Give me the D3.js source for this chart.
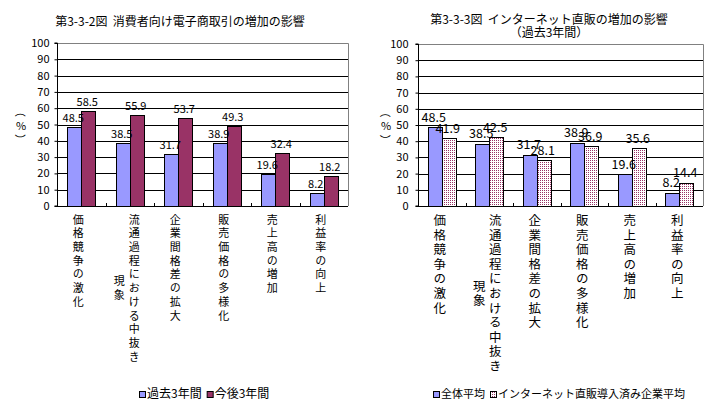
<!DOCTYPE html>
<html><head><meta charset="utf-8">
<script src="https://cdn.jsdelivr.net/npm/d3@7"></script>
<style>
html,body{margin:0;padding:0;background:#fff;}
svg{display:block;}
text{font-family:"Noto Sans CJK JP","Noto Sans",sans-serif;fill:#000;}
</style></head>
<body>
<svg id="c" width="717" height="407"></svg>
<script>
const categories = ["価格競争の激化","流通過程における中抜き現象","企業間格差の拡大","販売価格の多様化","売上高の増加","利益率の向上"];
const leftSeriesNames = ["過去3年間","今後3年間"];
const leftPast = [48.5,38.5,31.7,38.9,19.6,8.2];
const leftFuture = [58.5,55.9,53.7,49.3,32.4,18.2];
const rightSeriesNames = ["全体平均","インターネット直販導入済み企業平均"];
const rightAll = [48.5,38.5,31.7,38.9,19.6,8.2];
const rightAdopted = [41.9,42.5,28.1,36.9,35.6,14.4];
const yTicks = [0,10,20,30,40,50,60,70,80,90,100];
const leftTitle = ["第3-3-2図  消費者向け電子商取引の増加の影響"];
const rightTitle = ["第3-3-3図  インターネット直販の増加の影響","（過去3年間）"];

const svg = d3.select("#c");
const defs = svg.append("defs");
const pat = defs.append("pattern").attr("id","dots").attr("patternUnits","userSpaceOnUse")
  .attr("width",2).attr("height",2);
pat.append("rect").attr("width",2).attr("height",2).attr("fill","#fff");
pat.append("rect").attr("width",1).attr("height",1).attr("fill","#993366");

function chart(cfg){
  const g = svg.append("g");
  const y = d3.scaleLinear().domain([0,100]).range([cfg.y1, cfg.y0]);
  const x = d3.scaleBand().domain(categories).range([cfg.x0, cfg.x1]).padding(0);
  const xs = d3.scaleBand().domain([0,1]).range([0,28]);
  const bw = xs.bandwidth();
  // titles
  cfg.title.forEach((t,i)=>{
    g.append("text").attr("x",cfg.titleX).attr("y",cfg.titleY + i*13)
      .attr("text-anchor","middle").attr("font-size",12).style("white-space","pre").text(t);
  });
  // gridlines
  g.selectAll("line.grid").data(yTicks.filter(v=>v>0 && v<100)).join("line")
    .attr("x1",cfg.x0).attr("x2",cfg.x1).attr("y1",d=>Math.round(y(d))+0.5).attr("y2",d=>Math.round(y(d))+0.5)
    .attr("stroke","#000").attr("stroke-width",1);
  // border top/right gray
  g.append("path").attr("d",`M${cfg.x0},${Math.round(y(100))+0.5}H${cfg.x1+0.5}V${Math.round(y(0))}`)
    .attr("fill","none").attr("stroke","#808080");
  // bars
  const series = [cfg.s0, cfg.s1];
  series.forEach((vals,si)=>{
    g.selectAll("rect.s"+si).data(vals).join("rect")
      .attr("x",(d,i)=>Math.round(x(categories[i]) + x.bandwidth()/2 - 14 + xs(si))+0.5)
      .attr("y",d=>Math.round(y(d))+0.5)
      .attr("width",bw)
      .attr("height",d=>Math.round(y(0))-Math.round(y(d)))
      .attr("fill",cfg.fills[si]).attr("stroke","#000").attr("stroke-width",1);
  });
  // value labels
  series.forEach((vals,si)=>{
    g.selectAll("text.v"+si).data(vals).join("text")
      .attr("x",(d,i)=>x(categories[i]) + x.bandwidth()/2 - 14 + xs(si) + bw/2 - 1)
      .attr("y",d=>y(d)-cfg.labelGap)
      .attr("text-anchor","middle").attr("font-size",cfg.valFont)
      .attr("font-family","'Liberation Sans',Arial,sans-serif")
      .text(d=>d.toFixed(1));
  });
  // y axis
  const ax = d3.axisLeft(y).tickValues(yTicks).tickSize(3).tickFormat(d3.format("d")).tickPadding(cfg.tickPad);
  const ag = g.append("g").attr("transform",`translate(${cfg.x0+0.5},0)`).call(ax);
  ag.select(".domain").attr("stroke","#000").attr("d",`M-3,${y(100)}H0V${y(0)}H-3`);
  ag.selectAll("text").attr("font-size",11).attr("font-family","'Liberation Sans',Arial,sans-serif");
  ag.selectAll(".tick line").attr("stroke","#000");
  // x axis
  g.append("line").attr("x1",cfg.x0).attr("x2",cfg.x1).attr("y1",Math.round(y(0))+0.5).attr("y2",Math.round(y(0))+0.5).attr("stroke","#000");
  g.selectAll("line.xt").data(categories.slice(1)).join("line")
    .attr("x1",d=>Math.round(x(d))+0.5).attr("x2",d=>Math.round(x(d))+0.5)
    .attr("y1",Math.round(y(0))).attr("y2",Math.round(y(0))-3).attr("stroke","#000");
  // category labels: vertical, one glyph per text, wrapped into columns
  const maxChars = 11;
  categories.forEach(cat=>{
    const chars = Array.from(cat);
    const cols = [];
    for(let i=0;i<chars.length;i+=maxChars) cols.push(chars.slice(i,i+maxChars));
    const cx = x(cat) + x.bandwidth()/2 + cfg.catOff;
    const mainLen = cols[0].length;
    cols.forEach((col,ci)=>{
      const colX = cx + (cols.length-1)*cfg.colGap/2 - ci*cfg.colGap;
      const startY = cfg.catY + (mainLen - col.length)*cfg.charGap/2;
      col.forEach((ch,k)=>{
        g.append("text").attr("x",colX).attr("y",startY + k*cfg.charGap)
          .style("writing-mode","vertical-rl")
          .attr("text-anchor","start")
          .attr("font-size",cfg.catFont).text(ch);
      });
    });
  });
  // y axis title (%)
  const yt = g.append("g").attr("transform",`translate(${cfg.ytX},${y(50)})`);
  yt.append("text").attr("transform","translate(0,-13) rotate(90)").attr("text-anchor","middle").attr("dominant-baseline","central").attr("font-size",11).text("（");
  yt.append("text").attr("x",0).attr("y",0).attr("text-anchor","middle").attr("dominant-baseline","central").attr("font-size",11).text("%");
  yt.append("text").attr("transform","translate(0,15) rotate(90)").attr("text-anchor","middle").attr("dominant-baseline","central").attr("font-size",11).text("）");
  // legend
  const lg = g.append("g");
  let lx = cfg.legX;
  cfg.names.forEach((n,i)=>{
    lg.append("rect").attr("x",lx+0.5).attr("y",cfg.legY-6.5).attr("width",6).attr("height",6)
      .attr("fill",cfg.fills[i]).attr("stroke","#000");
    const t = lg.append("text").attr("x",lx+8).attr("y",cfg.legY).attr("font-size",cfg.legFont).text(n);
    lx += 8 + t.node().getComputedTextLength() + cfg.legGap;
  });
}

chart({x0:57,x1:348,y0:43,y1:206,s0:leftPast,s1:leftFuture,fills:["#9999FF","#993366"],
  title:leftTitle,titleX:180,titleY:26,labelGap:5,valFont:11,tickPad:5,
  catOff:-3,colGap:15,catY:214,charGap:13.7,catFont:11,ytX:21,
  names:leftSeriesNames,legX:139,legY:398,legFont:12,legGap:5});
chart({x0:418,x1:703,y0:44,y1:206,s0:rightAll,s1:rightAdopted,fills:["#9999FF","url(#dots)"],
  title:rightTitle,titleX:549,titleY:24,labelGap:5.5,valFont:12.5,tickPad:7,
  catOff:-2,colGap:16,catY:214,charGap:14.6,catFont:12.5,ytX:386,
  names:rightSeriesNames,legX:433,legY:398,legFont:11,legGap:5});
</script>
</body></html>
